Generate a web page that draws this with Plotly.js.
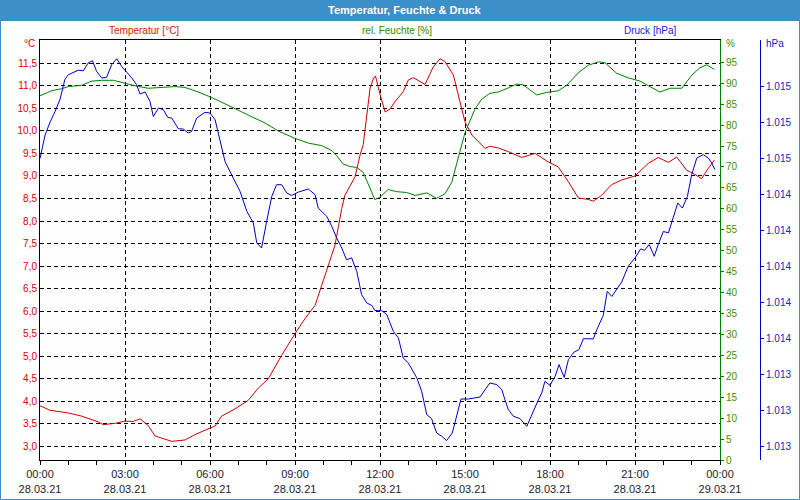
<!DOCTYPE html>
<html><head><meta charset="utf-8">
<script src="https://cdn.plot.ly/plotly-3.0.1.min.js"></script>
<style>html,body{margin:0;padding:0;background:#fff}#chart{width:800px;height:500px}</style>
</head><body><div id="chart"></div>
<script>
// ---- data (hours since 28.03.21 00:00) ----
const tempHours = [0,0.35,1.0,1.47,2.06, 2.23,2.65,3.0,3.29,3.53, 3.82,4.06,4.65,5.12,5.47, 5.94,6.18,6.41,6.88,7.35, 7.70,8.06,8.53,9.0,9.35, 9.71,9.94,10.18,10.41,10.65, 10.76,11.12,11.29,11.41,11.53, 11.65,11.76,11.84,12.0,12.18, 12.35,12.53,12.82,13.0,13.18, 13.59,13.88,14.12,14.29,14.59, 14.82,15.0,15.24,15.71,15.88, 16.18,16.53,17.0,17.47,17.94, 18.29,18.65,19.0,19.35,19.53, 19.82,20.18,20.53,21.0,21.47, 21.82,22.18,22.47,22.82,23.12, 23.35,23.59,23.8];
const tempValues = [3.90,3.80,3.74,3.67,3.54, 3.48,3.51,3.56,3.55,3.61, 3.46,3.23,3.11,3.14,3.26, 3.39,3.45,3.67,3.83,4.02, 4.29,4.50,5.02,5.50,5.83, 6.13,6.57,7.02,7.46,8.28, 8.57,8.98,9.45,9.70,10.30, 10.95,11.15,11.22,10.81,10.42, 10.48,10.65,10.87,11.13,11.18, 11.03,11.42,11.60,11.54,11.24, 10.65,10.20,9.91,9.61,9.66, 9.62,9.54,9.41,9.50,9.31, 9.20,8.87,8.51,8.48,8.44, 8.57,8.81,8.91,9.00,9.28, 9.41,9.30,9.42,9.13,9.03, 8.94,9.17,9.35];

const humHours = [0,0.41,0.77,1.0,1.47, 1.82,2.18,2.59,3.0,3.35, 3.82,4.30,4.76,5.12,5.59, 6.06,6.65,7.35,7.94,8.41, 8.94,9.47,9.94,10.30,10.47, 10.70,10.94,11.18,11.41,11.65, 11.82,12.0,12.29,12.59,12.94, 13.24,13.65,14.0,14.29,14.53, 14.76,15.0,15.35,15.59,15.88, 16.18,16.53,16.82,17.06,17.29, 17.53,17.88,18.29,18.59,19.0, 19.35,19.71,19.94,20.35,20.76, 21.18,21.47,21.88,22.24,22.65, 23.0,23.29,23.53,23.8];
const humValues = [87.0,88.2,88.7,89.2,89.5, 90.5,90.7,90.7,90.0,89.4, 88.8,89.0,89.2,89.0,87.9, 86.6,84.6,82.4,80.5,78.6, 77.0,75.7,75.1,73.9,72.7, 70.7,70.1,69.9,68.7,64.8, 62.2,62.8,64.6,64.1,63.9, 63.2,63.8,62.5,63.6,66.3, 71.9,78.2,83.8,86.2,87.6, 87.9,88.9,89.8,89.6,88.4, 87.2,87.8,88.2,89.5,92.5, 94.3,95.1,94.9,92.4,91.3, 90.5,89.4,87.9,88.8,88.8, 91.9,93.7,94.4,93.3];

const pressHours = [0,0.18,0.35,0.53,0.71, 0.88,1.0,1.35,1.53,1.70, 1.85,2.0,2.18,2.35,2.53, 2.71,2.88,3.24,3.41,3.53, 3.71,3.88,4.0,4.18,4.35, 4.51,4.65,4.88,5.06,5.23, 5.35,5.53,5.82,6.0,6.18, 6.35,6.53,6.82,7.06,7.30, 7.53,7.65,7.82,8.0,8.18, 8.35,8.53,8.71,8.88,9.12, 9.47,9.71,9.82,10.12,10.30, 10.47,10.65,10.82,11.0,11.18, 11.35,11.53,11.71,11.82,12.06, 12.24,12.47,12.65,12.82,13.0, 13.30,13.47,13.65,13.82,14.0, 14.18,14.35,14.55,14.71,14.86, 15.12,15.29,15.53,15.71,15.88, 16.12,16.30,16.41,16.53,16.71, 16.94,17.18,17.35,17.59,17.71, 17.82,18.0,18.18,18.32,18.50, 18.65,18.85,19.02,19.18,19.53, 19.65,19.88,20.02,20.18,20.53, 20.76,21.0,21.20,21.33,21.50, 21.68,21.82,22.0,22.18,22.35, 22.51,22.67,22.85,23.0,23.18, 23.41,23.59,23.71,23.82];
const pressValues = [1014.60,1014.73,1014.80,1014.86,1014.93, 1015.04,1015.065,1015.09,1015.087,1015.13, 1015.143,1015.083,1015.047,1015.05,1015.121, 1015.154,1015.111,1015.047,1015.009,1014.958, 1014.969,1014.917,1014.833,1014.88,1014.871, 1014.828,1014.824,1014.765,1014.763,1014.741, 1014.75,1014.824,1014.856,1014.852,1014.815, 1014.694,1014.583,1014.491,1014.417,1014.306, 1014.241,1014.13,1014.102,1014.25,1014.389, 1014.454,1014.454,1014.408,1014.394,1014.413, 1014.43,1014.398,1014.324,1014.278,1014.222, 1014.158,1014.102,1014.037,1014.047,1013.972, 1013.843,1013.797,1013.783,1013.754,1013.754, 1013.732,1013.639,1013.602,1013.491,1013.463, 1013.38,1013.306,1013.176,1013.154,1013.074, 1013.056,1013.032,1013.074,1013.167,1013.263, 1013.263,1013.269,1013.274,1013.315,1013.352, 1013.343,1013.315,1013.259,1013.204,1013.167, 1013.154,1013.111,1013.176,1013.259,1013.297, 1013.361,1013.339,1013.389,1013.454,1013.383, 1013.482,1013.524,1013.537,1013.598,1013.597, 1013.648,1013.728,1013.861,1013.833,1013.913, 1014.0,1014.047,1014.097,1014.089,1014.121, 1014.056,1014.121,1014.194,1014.186,1014.278, 1014.352,1014.324,1014.389,1014.509,1014.602, 1014.621,1014.602,1014.574,1014.537];

const tempTicks = [3.0,3.5,4.0,4.5,5.0,5.5,6.0,6.5,7.0,7.5,8.0,8.5,9.0,9.5,10.0,10.5,11.0,11.5];
const humTicks = [0,5,10,15,20,25,30,35,40,45,50,55,60,65,70,75,80,85,90,95];
const pressTicks = [1013.0,1013.2,1013.4,1013.6,1013.8,1014.0,1014.2,1014.4,1014.6,1014.8,1015.0];

const chartTitle = 'Temperatur, Feuchte & Druck';
const seriesNames = ['Temperatur [°C]', 'rel. Feuchte [%]', 'Druck [hPa]'];
const unitLabels = ['°C', '%', 'hPa'];

const BASE = Date.UTC(2021, 2, 28);
function toTime(h) {
  const d = new Date(BASE + Math.round(h * 3600000));
  return d.toISOString().slice(0, 19).replace('T', ' ');
}

const RED = '#d00000', GREEN = '#008000', BLUE = '#0000cc';
const FONT = 'Liberation Sans, Arial, sans-serif';

const traces = [
  {x: tempHours.map(toTime), y: tempValues, yaxis: 'y', type: 'scatter', mode: 'lines', name: seriesNames[0], line: {color: RED, width: 1}},
  {x: humHours.map(toTime), y: humValues, yaxis: 'y2', type: 'scatter', mode: 'lines', name: seriesNames[1], line: {color: GREEN, width: 1}},
  {x: pressHours.map(toTime), y: pressValues, yaxis: 'y3', type: 'scatter', mode: 'lines', name: seriesNames[2], line: {color: BLUE, width: 1}}
];

// pixel -> paper helpers (plot area 40..760 x 40..460)
const px = v => (v - 40) / 720;
const py = v => (460 - v) / 420;

const layout = {
  width: 800, height: 500,
  separators: ',.',
  margin: {l: 40, r: 40, t: 40, b: 40},
  paper_bgcolor: '#ffffff',
  plot_bgcolor: '#fdfefd',
  showlegend: false,
  font: {family: FONT, size: 10, color: '#222'},
  xaxis: {
    type: 'date', domain: [0, 680 / 720],
    range: [toTime(0), toTime(24)],
    tickmode: 'linear', tick0: toTime(0), dtick: 10800000,
    tickformat: '%H:%M<br>%d.%m.%y',
    ticks: 'outside', ticklen: 4, tickcolor: '#000',
    showline: true, linecolor: '#000', linewidth: 1, mirror: true,
    showgrid: true, gridcolor: '#000', gridwidth: 1, griddash: '4px,3px',
    minor: {dtick: 3600000, ticks: 'outside', ticklen: 4, tickcolor: '#000', showgrid: false},
    zeroline: false,
    tickfont: {family: FONT, size: 11, color: '#1c1c2c'}
  },
  yaxis: {
    range: [2.696, 12.017],
    tickmode: 'array', tickvals: tempTicks, tickformat: '.1f',
    ticks: '', showline: true, linecolor: '#000', linewidth: 1,
    showgrid: true, gridcolor: '#000', gridwidth: 1, griddash: '4px,3px',
    zeroline: false,
    tickfont: {family: FONT, size: 10, color: '#dd0000'}
  },
  yaxis2: {
    overlaying: 'y', side: 'right', anchor: 'x',
    range: [0, 100.33],
    tickmode: 'array', tickvals: humTicks,
    ticks: 'outside', ticklen: 3, tickcolor: GREEN,
    showline: true, linecolor: GREEN, linewidth: 1,
    showgrid: false, zeroline: false,
    tickfont: {family: FONT, size: 10, color: '#3f8f00'}
  },
  yaxis3: {
    overlaying: 'y', side: 'right', anchor: 'free', position: 1,
    range: [1012.924, 1015.258],
    tickmode: 'array', tickvals: pressTicks, tickformat: ',.0f',
    ticks: 'outside', ticklen: 3, tickcolor: BLUE,
    showline: true, linecolor: BLUE, linewidth: 1,
    showgrid: false, zeroline: false,
    tickfont: {family: FONT, size: 10, color: '#2020cc'}
  },
  shapes: [
    {type: 'rect', xref: 'paper', yref: 'paper', x0: px(0), x1: px(800), y0: py(21), y1: py(0),
     fillcolor: '#3d8fc8', line: {width: 0}, layer: 'below'},
    {type: 'rect', xref: 'paper', yref: 'paper', x0: px(0.5), x1: px(799.5), y0: py(499.5), y1: py(0.5),
     fillcolor: 'rgba(0,0,0,0)', line: {color: '#3d8fc8', width: 1}}
  ],
  annotations: [
    {text: chartTitle, xref: 'paper', yref: 'paper', x: px(404), y: py(10), xanchor: 'center', yanchor: 'middle',
     showarrow: false, font: {family: FONT, size: 11, color: '#ffffff', weight: 'bold'}},
    {text: seriesNames[0], xref: 'paper', yref: 'paper', x: px(144), y: py(30), xanchor: 'center', yanchor: 'middle',
     showarrow: false, font: {family: FONT, size: 10, color: '#cc1a00'}},
    {text: seriesNames[1], xref: 'paper', yref: 'paper', x: px(397), y: py(30), xanchor: 'center', yanchor: 'middle',
     showarrow: false, font: {family: FONT, size: 10, color: '#2e8a00'}},
    {text: seriesNames[2], xref: 'paper', yref: 'paper', x: px(650), y: py(30), xanchor: 'center', yanchor: 'middle',
     showarrow: false, font: {family: FONT, size: 10, color: '#2020cc'}},
    {text: unitLabels[0], xref: 'paper', yref: 'paper', x: px(37), y: py(44), xanchor: 'right', yanchor: 'middle',
     showarrow: false, font: {family: FONT, size: 10, color: '#dd0000'}},
    {text: unitLabels[1], xref: 'paper', yref: 'paper', x: px(724), y: py(44), xanchor: 'left', yanchor: 'middle',
     showarrow: false, font: {family: FONT, size: 10, color: '#3f8f00'}},
    {text: unitLabels[2], xref: 'paper', yref: 'paper', x: px(764), y: py(44), xanchor: 'left', yanchor: 'middle',
     showarrow: false, font: {family: FONT, size: 10, color: '#2020cc'}}
  ]
};

Plotly.newPlot('chart', traces, layout, {displayModeBar: false, staticPlot: true});
</script>
</body></html>
